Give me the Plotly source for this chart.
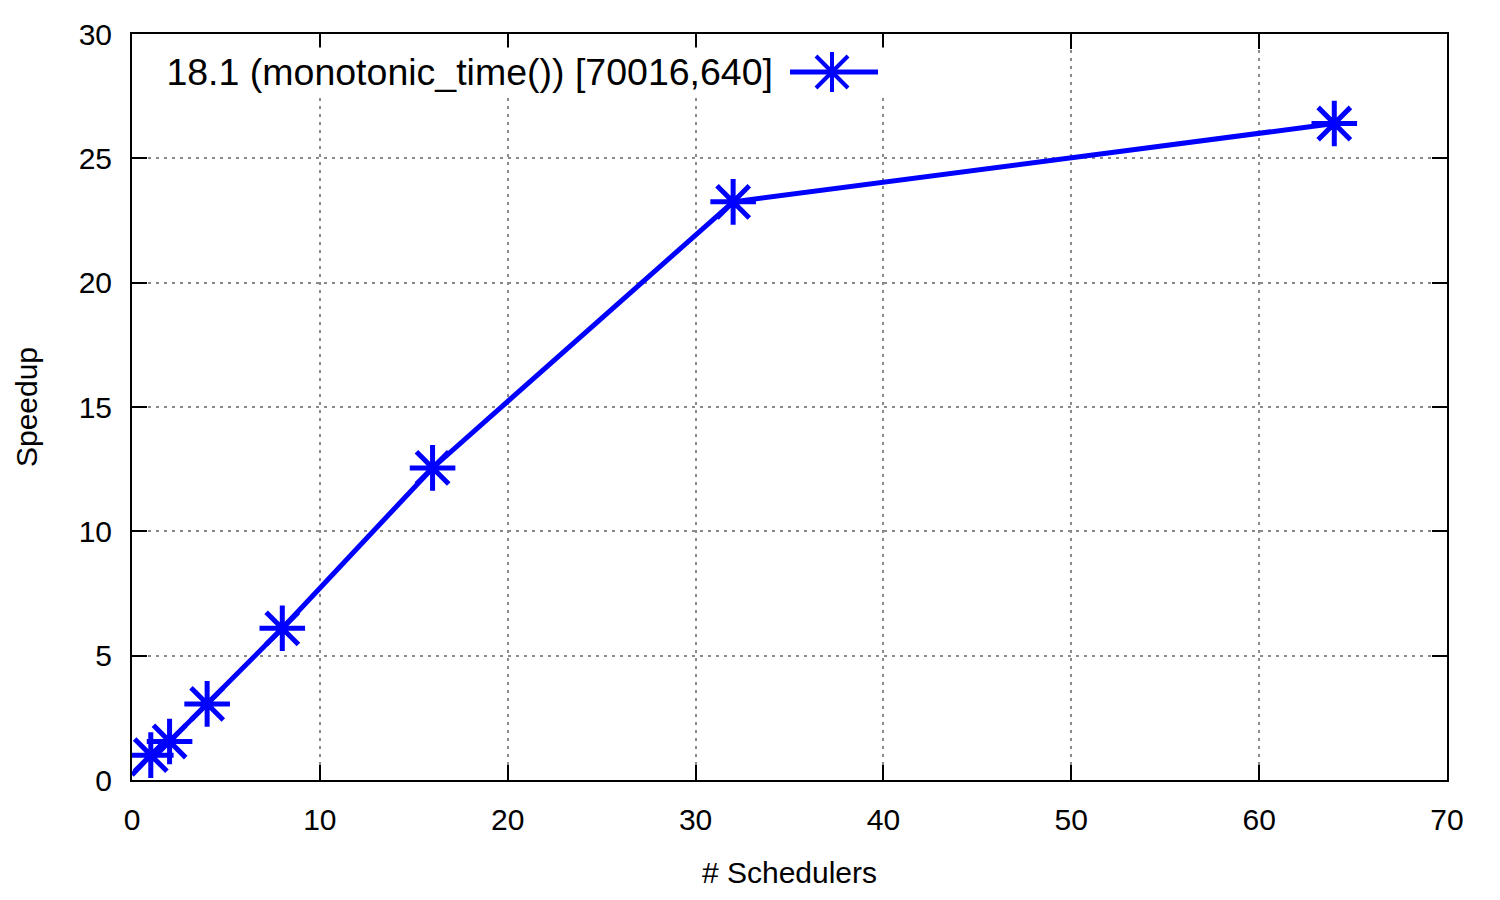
import plotly.graph_objects as go

# Data
schedulers = [0, 1, 2, 4, 8, 16, 32, 64]
speedup = [0.2, 1.0, 1.55, 3.06, 6.1, 12.55, 23.25, 26.4]
marker_sizes = [0, 38, 38, 38, 38, 38, 38, 38]
series_name = "18.1 (monotonic_time()) [70016,640]"
x_title = "# Schedulers"
y_title = "Speedup"

BLUE = "#0000ff"
FONT = "Liberation Sans, Arial, sans-serif"

# plot area in pixels
L, R, T, B = 132, 1447, 34, 780
W, H = R - L, B - T
def px(x):
    return (x - L) / W
def py(y):
    return (B - y) / H

fig = go.Figure()
fig.add_trace(go.Scatter(
    x=schedulers, y=speedup, mode="lines+markers", name=series_name,
    line=dict(color=BLUE, width=5),
    marker=dict(symbol="asterisk", size=marker_sizes, opacity=1,
                line=dict(color=BLUE, width=5), color=BLUE),
    cliponaxis=True, showlegend=False,
))

axis_common = dict(
    showline=True, linecolor="black", linewidth=2, mirror="ticks",
    ticks="inside", ticklen=15, tickwidth=2, tickcolor="black",
    showgrid=True, gridcolor="#8a8a8a", griddash="3px,5px", gridwidth=1.5,
    zeroline=False, tickfont=dict(family=FONT, size=30, color="black"),
)

fig.update_xaxes(range=[0, 70], tick0=0, dtick=10, ticklabelstandoff=12,
                 title=dict(text=x_title, font=dict(family=FONT, size=30, color="black"), standoff=27),
                 **axis_common)
fig.update_yaxes(range=[0, 30], tick0=0, dtick=5, ticklabelstandoff=12,
                 title=dict(text=y_title, font=dict(family=FONT, size=30, color="black"), standoff=32),
                 **axis_common)

shapes = []
# legend key line
ky = py(72)
shapes.append(dict(type="line", xref="paper", yref="paper",
                   x0=px(790), x1=px(878), y0=ky, y1=ky,
                   line=dict(color=BLUE, width=5)))
# legend key asterisk
cx, cy, r, d = 832, 72, 20, 16
for (dx0, dy0, dx1, dy1) in [(-r, 0, r, 0), (0, -r, 0, r), (-d, -d, d, d), (-d, d, d, -d)]:
    shapes.append(dict(type="line", xref="paper", yref="paper",
                       x0=px(cx + dx0), y0=py(cy + dy0), x1=px(cx + dx1), y1=py(cy + dy1),
                       line=dict(color=BLUE, width=4)))

annotations = [
    # opaque legend text box
    dict(text=series_name, xref="paper", yref="paper",
         x=px(774), y=ky, xanchor="right", yanchor="middle",
         width=620, height=48, align="right", bgcolor="white", borderpad=0,
         showarrow=False, font=dict(family=FONT, size=37.5, color="black")),
    # opaque strip right of the key
    dict(text=" ", xref="paper", yref="paper",
         x=px(880), y=ky, xanchor="left", yanchor="middle",
         width=12, height=48, bgcolor="white", borderpad=0,
         showarrow=False, font=dict(family=FONT, size=10, color="white")),
]

fig.update_layout(
    width=1500, height=900,
    margin=dict(l=L, r=1500 - R, t=T, b=900 - B),
    plot_bgcolor="white", paper_bgcolor="white",
    font=dict(family=FONT, color="black"),
    shapes=shapes,
    annotations=annotations,
)

fig.write_html("out.html")
